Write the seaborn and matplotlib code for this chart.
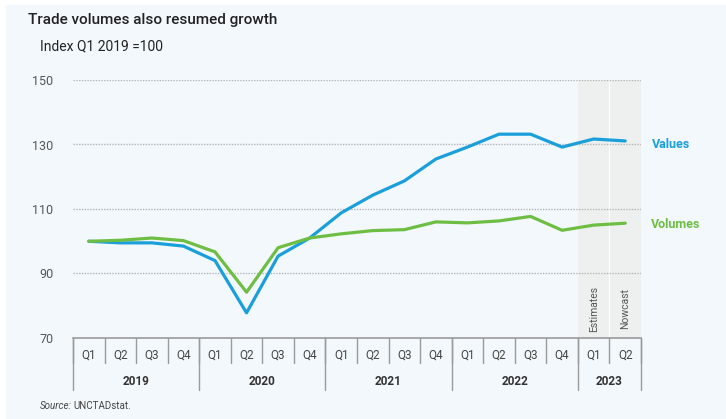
import matplotlib
matplotlib.use("Agg")
import matplotlib.pyplot as plt
import matplotlib.transforms as mtransforms
from matplotlib.patches import Rectangle
import seaborn as sns
import pandas as pd
import numpy as np

# data
years = ["2019", "2020", "2021", "2022", "2023"]
quarters_per_year = [4, 4, 4, 4, 2]
quarter_labels = ["Q1", "Q2", "Q3", "Q4"] * 4 + ["Q1", "Q2"]
values = [100, 99.5, 99.5, 98.5, 94.0, 77.8, 95.4, 101.0, 108.8, 114.3,
          118.7, 125.5, 129.2, 133.2, 133.2, 129.2, 131.7, 131.1]
volumes = [100, 100.3, 101.0, 100.2, 96.7, 84.2, 98.0, 101.0, 102.3, 103.3,
           103.6, 106.0, 105.7, 106.3, 107.7, 103.4, 105.0, 105.6]

blue = "#1a9fdb"
green = "#6fbe44"
bg = "#f2f8fc"

n = len(quarter_labels)
df = pd.DataFrame({
    "pos": list(range(n)) * 2,
    "index": values + volumes,
    "series": ["Values"] * n + ["Volumes"] * n,
})

sns.set_style("white")
plt.rcParams["font.family"] = ["Roboto", "DejaVu Sans"]

fig = plt.figure(figsize=(7.26, 4.19), dpi=100)
fig.patch.set_facecolor("white")
fig.patches.append(Rectangle((6 / 726, 0), 1, 1 - 5 / 419, transform=fig.transFigure,
                             facecolor=bg, edgecolor="none", zorder=-10))
ax = fig.add_axes([73 / 726, 1 - 338 / 419, 568 / 726, 258 / 419])
ax.set_facecolor(bg)
ax.patch.set_alpha(0)

# shaded estimate / nowcast columns
ax.axvspan(15.5, 17.5, color="#eeeeee", alpha=0.9, lw=0, zorder=0)
ax.axvline(16.5, color="white", lw=0.8, zorder=0.5)

for yv in [90, 110, 130, 150]:
    ax.axhline(yv, color="#b5b5b5", lw=1, ls=(0, (1, 1)), zorder=1)

sns.lineplot(data=df, x="pos", y="index", hue="series",
             palette={"Values": blue, "Volumes": green},
             linewidth=2.3, legend=False, ax=ax, zorder=3)

ax.set_xlim(-0.5, 17.5)
ax.set_ylim(70, 150)
ax.set_yticks([70, 90, 110, 130, 150])
ax.tick_params(axis="y", length=0, labelsize=9, labelcolor="#555555", pad=14)
ax.set_xticks([])
ax.set_xlabel("")
ax.set_ylabel("")
for s in ["top", "right", "left"]:
    ax.spines[s].set_visible(False)
ax.spines["bottom"].set_color("#9a9a9a")
ax.spines["bottom"].set_linewidth(1.2)

# two-level category axis
trans = mtransforms.blended_transform_factory(ax.transData, ax.transAxes)
for i in range(n + 1):
    ax.plot([i - 0.5, i - 0.5], [0, -0.097], color="#9a9a9a", lw=1,
            transform=trans, clip_on=False)
for i, q in enumerate(quarter_labels):
    ax.text(i, -0.066, q, transform=trans, ha="center", va="center",
            fontsize=8.5, color="#444444")
start = 0
bounds = [-0.5]
for y, k in zip(years, quarters_per_year):
    ax.text(start + (k - 1) / 2, -0.167, y, transform=trans, ha="center",
            va="center", fontsize=8.5, fontweight="bold", color="#333333")
    start += k
    bounds.append(start - 0.5)
for b in bounds:
    ax.plot([b, b], [0, -0.202], color="#9a9a9a", lw=1,
            transform=trans, clip_on=False)

ax.text(16, 79, "Estimates", rotation=90, ha="center", va="center",
        fontsize=7.5, color="#555555")
ax.text(17, 79, "Nowcast", rotation=90, ha="center", va="center",
        fontsize=7.5, color="#555555")

# end labels
ax.text(17.85, 130.0, "Values", color=blue, fontsize=9, fontweight="bold",
        va="center", ha="left", clip_on=False)
ax.text(17.82, 105.2, "Volumes", color=green, fontsize=9, fontweight="bold",
        va="center", ha="left", clip_on=False)

fig.text(28 / 726, 1 - 20 / 419, "Trade volumes also resumed growth",
         fontsize=11, fontweight="medium", color="#222222", va="center")
fig.text(40 / 726, 1 - 46 / 419, "Index Q1 2019 =100", fontsize=10,
         color="#222222", va="center")
fig.text(40 / 726, 1 - 406 / 419, "Source:", fontsize=7, style="italic",
         color="#444444", va="center")
fig.text(73 / 726, 1 - 406 / 419, "UNCTADstat.", fontsize=7,
         color="#444444", va="center")

fig.savefig("out.png", dpi=100, facecolor=fig.get_facecolor())
